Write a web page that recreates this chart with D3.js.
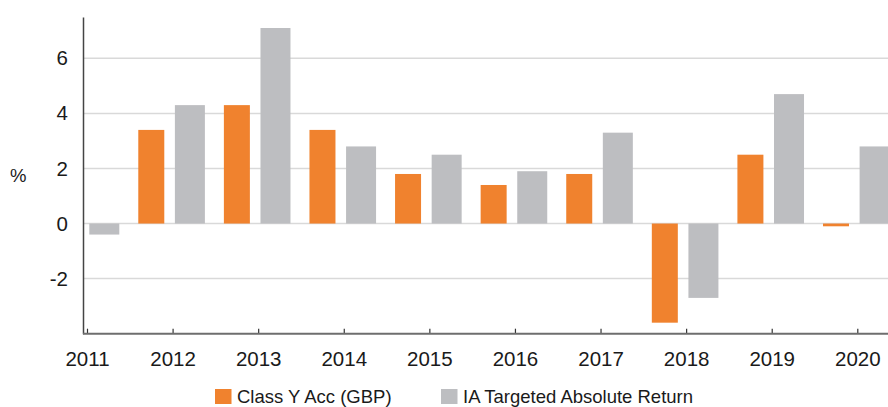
<!DOCTYPE html>
<html>
<head>
<meta charset="utf-8">
<script src="https://cdn.jsdelivr.net/npm/d3@7"></script>
<style>
  html, body { margin: 0; padding: 0; background: #fff; }
  svg { display: block; font-family: "Liberation Sans", Arial, sans-serif; }
</style>
</head>
<body>
<svg id="chart" width="888" height="407"></svg>
<script>
const years = [2011, 2012, 2013, 2014, 2015, 2016, 2017, 2018, 2019, 2020];
const fundValues = [null, 3.4, 4.3, 3.4, 1.8, 1.4, 1.8, -3.6, 2.5, -0.1];
const sectorValues = [-0.4, 4.3, 7.1, 2.8, 2.5, 1.9, 3.3, -2.7, 4.7, 2.8];
const seriesNames = ["Class Y Acc (GBP)", "IA Targeted Absolute Return"];
const yTicks = [-2, 0, 2, 4, 6];

const colors = ["#F0822E", "#BDBEC1"];
const svg = d3.select("#chart");
const W = 888;
const plotLeft = 83, plotTop = 17, plotBottom = 333.7;
const FONT = "Liberation Sans, Arial, sans-serif";

const x = d3.scaleLinear().domain([2011, 2020]).range([87, 857.3]);
const y = d3.scaleLinear().domain([-4, 7.5]).range([plotBottom, plotTop]);

// bar layout per series: offset from tick, width
const barLayout = [{ off: -34.3, w: 26 }, { off: 2.3, w: 30 }];

// gridlines
svg.append("g").selectAll("line").data(yTicks).join("line")
  .attr("x1", plotLeft).attr("x2", W)
  .attr("y1", d => y(d)).attr("y2", d => y(d))
  .attr("stroke", "#d9d9d9").attr("stroke-width", 1.5);

// bars
const series = [fundValues, sectorValues];
series.forEach((vals, si) => {
  const data = years.map((yr, i) => ({ yr, v: vals[i] })).filter(d => d.v !== null);
  svg.append("g").selectAll("rect").data(data).join("rect")
    .attr("x", d => x(d.yr) + barLayout[si].off)
    .attr("width", barLayout[si].w)
    .attr("y", d => y(Math.max(0, d.v)))
    .attr("height", d => Math.abs(y(d.v) - y(0)))
    .attr("fill", colors[si]);
});

// y axis
const yAxis = svg.append("g").attr("transform", `translate(${plotLeft},0)`)
  .call(d3.axisLeft(y).tickValues(yTicks).tickSize(0).tickPadding(15).tickFormat(d => String(d)));
yAxis.select(".domain").attr("stroke", "#444").attr("stroke-width", 1.5);
yAxis.selectAll("text").attr("font-size", 20.5).attr("fill", "#1a1a1a")
  .attr("font-family", FONT);

// x axis
const xAxis = svg.append("g").attr("transform", `translate(0,${plotBottom})`)
  .call(d3.axisBottom(x).tickValues(years).tickSize(-5).tickPadding(14).tickFormat(d => String(d)));
xAxis.select(".domain").remove();
xAxis.append("line").attr("x1", plotLeft).attr("x2", W).attr("y1", 0).attr("y2", 0)
  .attr("stroke", "#6e6e6e").attr("stroke-width", 2);
xAxis.selectAll(".tick line").attr("stroke", "#333").attr("stroke-width", 1.2);
xAxis.selectAll("text").attr("font-size", 20.5).attr("fill", "#1a1a1a")
  .attr("font-family", FONT)
  .attr("y", 32.5).attr("dy", 0);

// y axis title
svg.append("text").attr("x", 10).attr("y", 182).attr("font-size", 18.5).attr("fill", "#1a1a1a")
  .attr("font-family", FONT).text("%");

// legend
const legendX = [215, 441];
const lg = svg.append("g").selectAll("g").data(seriesNames).join("g")
  .attr("transform", (d, i) => `translate(${legendX[i]},389)`);
lg.append("rect").attr("width", 16.5).attr("height", 15).attr("fill", (d, i) => colors[i]);
lg.append("text").attr("x", 22).attr("y", 14).attr("font-size", 18.5).attr("fill", "#1a1a1a")
  .attr("font-family", FONT).text(d => d);
</script>
</body>
</html>
